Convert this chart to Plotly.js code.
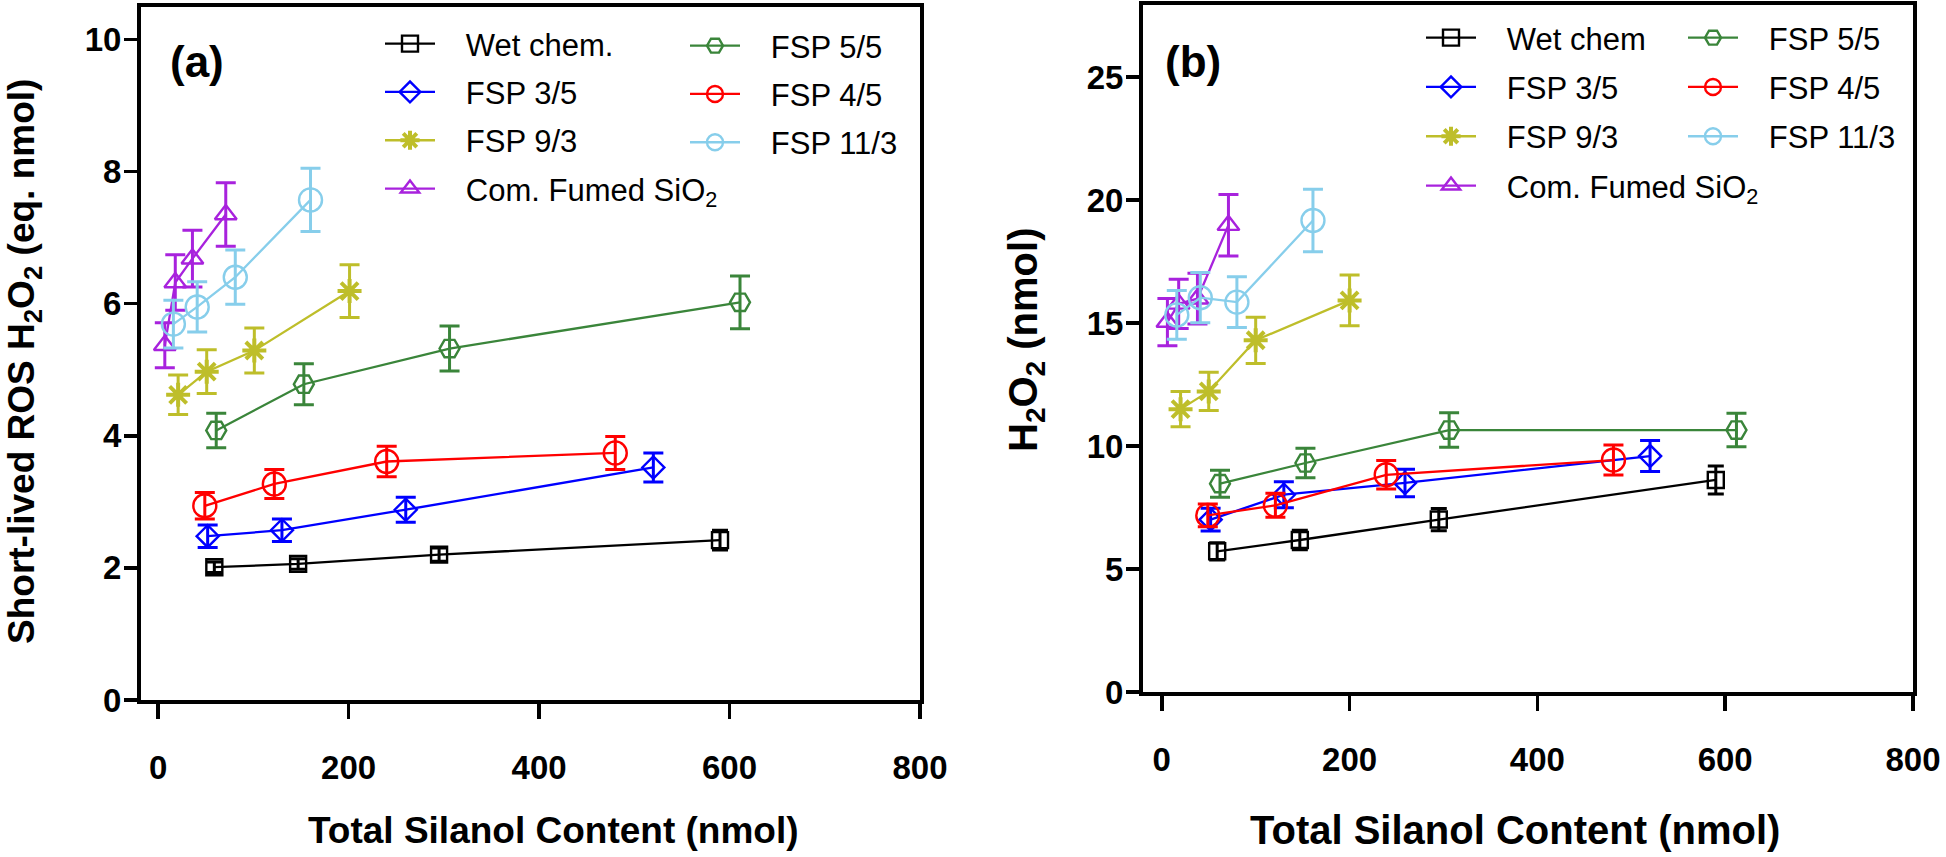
<!DOCTYPE html>
<html>
<head>
<meta charset="utf-8">
<script src="https://cdn.plot.ly/plotly-3.0.1.min.js"></script>
<style>html,body{margin:0;padding:0;background:#fff;}#chart{width:1946px;height:857px;}</style>
</head>
<body>
<div id="chart"></div>
<script>
// ---------- Panel (a): Short-lived ROS H2O2 (eq. nmol) ----------
const a_wet_x = [59, 147, 295, 590];
const a_wet_y = [2.01, 2.06, 2.20, 2.42];
const a_wet_e = [0.08, 0.08, 0.10, 0.15];

const a_fsp35_x = [52, 130, 260, 520];
const a_fsp35_y = [2.48, 2.57, 2.88, 3.52];
const a_fsp35_e = [0.17, 0.17, 0.19, 0.22];

const a_fsp93_x = [21, 51, 101, 201];
const a_fsp93_y = [4.62, 4.97, 5.29, 6.19];
const a_fsp93_e = [0.30, 0.33, 0.34, 0.40];

const a_com_x = [7, 18, 36, 71];
const a_com_y = [5.37, 6.32, 6.68, 7.35];
const a_com_e = [0.34, 0.42, 0.43, 0.48];

const a_fsp55_x = [61, 153, 306, 611];
const a_fsp55_y = [4.08, 4.78, 5.32, 6.02];
const a_fsp55_e = [0.26, 0.31, 0.34, 0.40];

const a_fsp45_x = [49, 122, 240, 480];
const a_fsp45_y = [2.94, 3.27, 3.61, 3.74];
const a_fsp45_e = [0.20, 0.22, 0.23, 0.25];

const a_fsp113_x = [16, 41, 81, 160];
const a_fsp113_y = [5.69, 5.95, 6.40, 7.57];
const a_fsp113_e = [0.36, 0.38, 0.41, 0.48];

// ---------- Panel (b): H2O2 (nmol) ----------
const b_wet_x = [59, 147, 295, 590];
const b_wet_y = [5.72, 6.18, 7.01, 8.62];
const b_wet_e = [0.35, 0.40, 0.45, 0.57];

const b_fsp35_x = [52, 130, 259, 520];
const b_fsp35_y = [7.01, 8.02, 8.50, 9.59];
const b_fsp35_e = [0.46, 0.53, 0.56, 0.63];

const b_fsp93_x = [20, 50, 100, 200];
const b_fsp93_y = [11.50, 12.22, 14.30, 15.92];
const b_fsp93_e = [0.72, 0.78, 0.94, 1.03];

const b_com_x = [6, 18, 38, 71];
const b_com_y = [15.04, 15.78, 15.99, 18.98];
const b_com_e = [0.96, 1.00, 1.03, 1.25];

const b_fsp55_x = [62, 153, 306, 612];
const b_fsp55_y = [8.47, 9.31, 10.65, 10.65];
const b_fsp55_e = [0.55, 0.60, 0.70, 0.68];

const b_fsp45_x = [49, 121, 239, 481];
const b_fsp45_y = [7.18, 7.59, 8.83, 9.43];
const b_fsp45_e = [0.46, 0.49, 0.58, 0.61];

const b_fsp113_x = [16, 41, 80, 161];
const b_fsp113_y = [15.33, 16.03, 15.85, 19.17];
const b_fsp113_e = [0.99, 1.02, 1.03, 1.27];

// ---------- ticks / labels ----------
const xTicks = [0, 200, 400, 600, 800];
const yTicksA = [0, 2, 4, 6, 8, 10];
const yTicksB = [0, 5, 10, 15, 20, 25];

const PAD = '\u00A0\u00A0\u00A0';
const namesA = ['Wet chem.', 'FSP 3/5', 'FSP 9/3', 'Com. Fumed SiO<sub>2</sub>', 'FSP 5/5', 'FSP 4/5', 'FSP 11/3'];
const namesB = ['Wet chem', 'FSP 3/5', 'FSP 9/3', 'Com. Fumed SiO<sub>2</sub>', 'FSP 5/5', 'FSP 4/5', 'FSP 11/3'];

const styles = [
  {color: '#000000', symbol: 'square-open', size: 16, ew: 8},
  {color: '#0000FF', symbol: 'diamond-open', size: 17, ew: 10},
  {color: '#BEBE2A', symbol: 'asterisk-open', size: 20, ew: 10, mlw: 4},
  {color: '#A822DD', symbol: 'triangle-up-open', size: 19, ew: 10},
  {color: '#3A853A', symbol: 'hexagon2-open', size: 20, ew: 10},
  {color: '#FF0000', symbol: 'circle-open', size: 23, ew: 10},
  {color: '#87CEEB', symbol: 'circle-open', size: 23, ew: 10}
];

const seriesA = [
  [a_wet_x, a_wet_y, a_wet_e], [a_fsp35_x, a_fsp35_y, a_fsp35_e], [a_fsp93_x, a_fsp93_y, a_fsp93_e],
  [a_com_x, a_com_y, a_com_e], [a_fsp55_x, a_fsp55_y, a_fsp55_e], [a_fsp45_x, a_fsp45_y, a_fsp45_e],
  [a_fsp113_x, a_fsp113_y, a_fsp113_e]
];
const seriesB = [
  [b_wet_x, b_wet_y, b_wet_e], [b_fsp35_x, b_fsp35_y, b_fsp35_e], [b_fsp93_x, b_fsp93_y, b_fsp93_e],
  [b_com_x, b_com_y, b_com_e], [b_fsp55_x, b_fsp55_y, b_fsp55_e], [b_fsp45_x, b_fsp45_y, b_fsp45_e],
  [b_fsp113_x, b_fsp113_y, b_fsp113_e]
];

function mk(s, i, names, xa, ya, legA, legB, tag) {
  const st = styles[i];
  return {
    type: 'scatter', mode: 'lines+markers',
    x: s[0], y: s[1], xaxis: xa, yaxis: ya,
    name: PAD + names[i],
    legend: i < 4 ? legA : legB,
    legendgroup: tag + i,
    line: {color: st.color, width: 2.3},
    marker: {symbol: st.symbol, size: st.size, color: st.color,
             line: {color: st.color, width: st.mlw || 2.4}},
    error_y: {type: 'data', array: s[2], visible: true, color: st.color, thickness: 3, width: st.ew}
  };
}

const traces = [];
for (let i = 0; i < 7; i++) traces.push(mk(seriesA[i], i, namesA, 'x', 'y', 'legend', 'legend2', 'a'));
for (let i = 0; i < 7; i++) traces.push(mk(seriesB[i], i, namesB, 'x2', 'y2', 'legend3', 'legend4', 'b'));

const W = 1946, H = 857;
const px = v => v / W;
const py = v => 1 - v / H;

const tickFont = {family: 'Liberation Sans, Arial, sans-serif', size: 33, color: '#000', weight: 'bold'};
const axisCommon = {
  showline: true, mirror: true, linewidth: 4, linecolor: '#000',
  ticks: 'outside', tickwidth: 3.5, tickcolor: '#000',
  showgrid: false, zeroline: false, tickfont: tickFont, fixedrange: true
};

const legFont = {family: 'Liberation Sans, Arial, sans-serif', size: 31, color: '#000'};
function leg(x, y, gap) {
  return {x: px(x), y: py(y), xanchor: 'left', yanchor: 'top', font: legFont,
          bgcolor: 'rgba(0,0,0,0)', borderwidth: 0, itemwidth: 50,
          traceorder: 'grouped', tracegroupgap: gap};
}

const titleFont = {family: 'Liberation Sans, Arial, sans-serif', color: '#000', weight: 'bold'};

const layout = {
  width: W, height: H,
  margin: {l: 0, r: 0, t: 0, b: 0},
  paper_bgcolor: '#fff', plot_bgcolor: '#fff',
  showlegend: true,
  xaxis: Object.assign({}, axisCommon, {domain: [px(141), px(920)], range: [-18, 800], tickvals: xTicks,
         ticklen: 15, anchor: 'y', ticklabelstandoff: 20}),
  yaxis: Object.assign({}, axisCommon, {domain: [py(700), py(7)], range: [0, 10.49], tickvals: yTicksA,
         ticklen: 13, anchor: 'x', ticklabelstandoff: -4}),
  xaxis2: Object.assign({}, axisCommon, {domain: [px(1143), px(1913)], range: [-20, 800], tickvals: xTicks,
         ticklen: 15, anchor: 'y2', ticklabelstandoff: 20}),
  yaxis2: Object.assign({}, axisCommon, {domain: [py(692), py(5)], range: [0, 27.93], tickvals: yTicksB,
         ticklen: 13, anchor: 'x2', ticklabelstandoff: -4}),
  legend: leg(380, 17, 5),
  legend2: leg(685, 19, 5),
  legend3: leg(1421, 11, 6),
  legend4: leg(1683, 11, 6),
  annotations: [
    {text: 'Short-lived ROS H<sub>2</sub>O<sub>2</sub> (eq. nmol)', xref: 'paper', yref: 'paper',
     x: px(24), y: py(362), textangle: -90, showarrow: false, xanchor: 'center', yanchor: 'middle',
     font: Object.assign({size: 37}, titleFont)},
    {text: 'H<sub>2</sub>O<sub>2</sub> (nmol)', xref: 'paper', yref: 'paper',
     x: px(1026), y: py(340), textangle: -90, showarrow: false, xanchor: 'center', yanchor: 'middle',
     font: Object.assign({size: 40}, titleFont)},
    {text: 'Total Silanol Content (nmol)', xref: 'paper', yref: 'paper',
     x: px(553), y: py(830), showarrow: false, xanchor: 'center', yanchor: 'middle',
     font: Object.assign({size: 37}, titleFont)},
    {text: 'Total Silanol Content (nmol)', xref: 'paper', yref: 'paper',
     x: px(1515), y: py(830), showarrow: false, xanchor: 'center', yanchor: 'middle',
     font: Object.assign({size: 40}, titleFont)},
    {text: '(a)', xref: 'paper', yref: 'paper', x: px(197), y: py(61), showarrow: false,
     xanchor: 'center', yanchor: 'middle', font: Object.assign({size: 44}, titleFont)},
    {text: '(b)', xref: 'paper', yref: 'paper', x: px(1193), y: py(61), showarrow: false,
     xanchor: 'center', yanchor: 'middle', font: Object.assign({size: 44}, titleFont)}
  ]
};

Plotly.newPlot('chart', traces, layout, {displayModeBar: false, staticPlot: true});
</script>
</body>
</html>
